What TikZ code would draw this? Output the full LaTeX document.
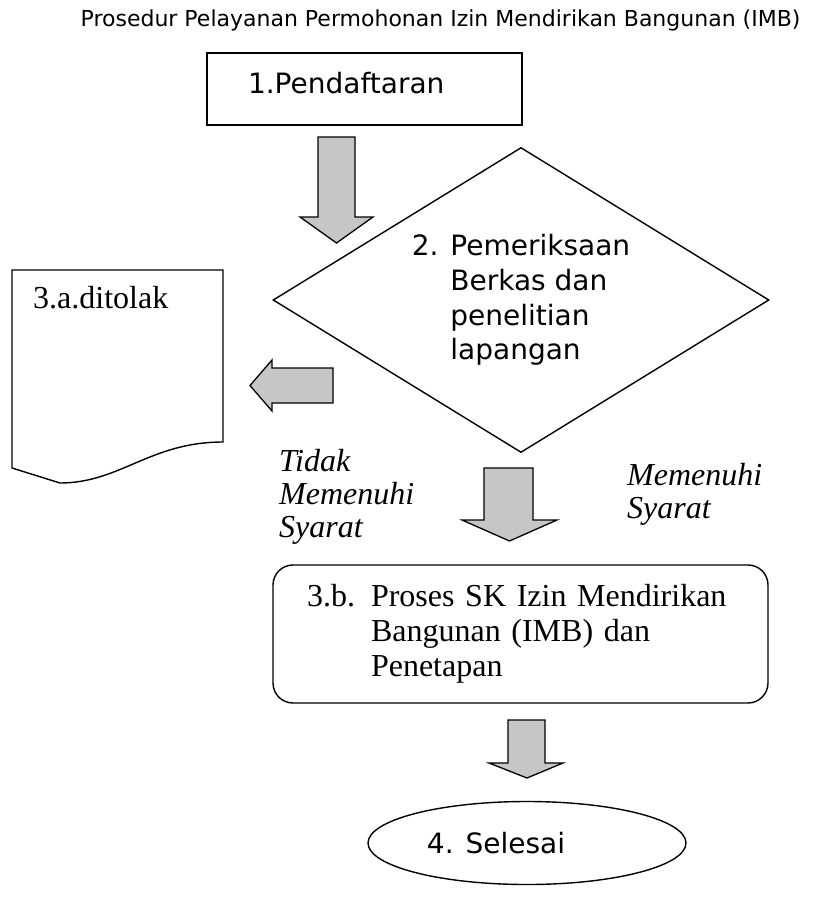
\documentclass[tikz,border=0pt]{standalone}
\usepackage{fontspec}
\setmainfont{Liberation Serif}
\newfontfamily\verdana{DejaVu Sans}
\usetikzlibrary{shapes.geometric}

\begin{document}
\begin{tikzpicture}[x=1pt,y=-1pt,
	kotak/.style={draw, line width=1.4pt, inner sep=0pt},
	panah/.style={draw, line width=1.3pt, fill=gray!45, line join=miter},
	judul/.style={font=\verdana\fontsize{22}{26}\selectfont, inner sep=0pt},
	sans/.style={font=\verdana\fontsize{28}{34.7}\selectfont},
	serif/.style={font=\fontsize{32}{35}\selectfont},
	miring/.style={font=\itshape\fontsize{32}{33}\selectfont, align=left, inner sep=0pt, anchor=north west}]
				\useasboundingbox (0,0) rectangle (830,923);
				\node [judul, anchor=base] (judul) at (440.5,27) {Prosedur Pelayanan Permohonan Izin Mendirikan Bangunan (IMB)};
				\node [kotak, sans, minimum width=315pt, minimum height=72pt, text width=233pt, text depth=12pt, inner xsep=41pt, align=left] (daftar) at (364.5,89) {1.Pendaftaran};
				\draw [panah] (318,137) -- (355,137) -- (355,217) -- (373,217) -- (336.5,243) -- (300,217) -- (318,217) -- cycle;
				\node [kotak, sans, diamond, aspect=1.63, minimum width=496pt, minimum height=305pt, align=left] (periksa) at (521,300) {2. Pemeriksaan\\\phantom{2. }Berkas dan\\\phantom{2. }penelitian\\\phantom{2. }lapangan};
				\coordinate (dok1) at (12,270);
				\coordinate (dok2) at (223,270);
				\coordinate (dok3) at (223,442);
				\coordinate (dok4) at (60,483);
				\coordinate (dok5) at (12,468);
				\draw [line width=1.4pt] (dok1) -- (dok2) -- (dok3) .. controls (150,442) and (120,483) .. (dok4) -- (dok5) -- cycle;
				\node [serif, anchor=base west, inner sep=0pt] (ditolak) at (33,308) {3.a.ditolak};
				\draw [panah] (333,368) -- (272,368) -- (272,360) -- (250,385.5) -- (272,411) -- (272,403) -- (333,403) -- cycle;
				\node [miring] (tidak) at (279,449) {Tidak\\Memenuhi\\Syarat};
				\node [miring] (memenuhi) at (627,463) {Memenuhi\\Syarat};
				\draw [panah] (484,468) -- (533,468) -- (533,520) -- (557,520) -- (509.5,541) -- (462,520) -- (484,520) -- cycle;
				\node [kotak, serif, rounded corners=20pt, minimum width=495pt, minimum height=138pt, text width=427pt, inner xsep=34pt, align=left] (proses) at (520.5,634) {3.b. Proses SK Izin Mendirikan\\\phantom{3.b. }Bangunan (IMB) dan\\\phantom{3.b. }Penetapan};
				\draw [panah] (508,720) -- (545,720) -- (545,763) -- (563,763) -- (527,778) -- (489,763) -- (508,763) -- cycle;
				\node [kotak, sans, ellipse, minimum width=318pt, minimum height=83pt] (selesai) at (527,843) {4. Selesai\hspace*{62pt}};
			\end{tikzpicture}
\end{document}
